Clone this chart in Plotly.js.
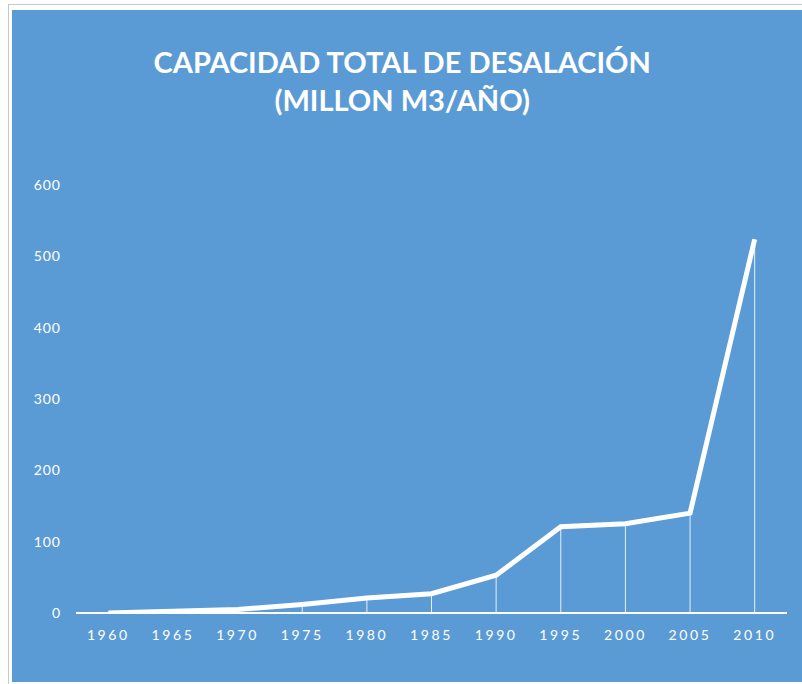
<!DOCTYPE html>
<html>
<head>
<meta charset="utf-8">
<script src="https://cdn.plot.ly/plotly-3.0.1.min.js"></script>
<style>
html,body{margin:0;padding:0;background:#fff;width:802px;height:684px;overflow:hidden;}
#frame{position:absolute;left:8px;top:4px;width:794px;height:680px;border-left:1px solid #c8c8c8;border-top:1px solid #c8c8c8;}
#chart{position:absolute;left:12px;top:10px;width:790px;height:672px;}
#chart .xtick text{letter-spacing:2.6px;}
#chart .ytick text{letter-spacing:1px;}
</style>
</head>
<body>
<div id="frame"></div>
<div id="chart"></div>
<script>
var years = ['1960','1965','1970','1975','1980','1985','1990','1995','2000','2005','2010'];
var capacity = [0, 2, 5, 12, 21, 27, 53, 121, 125, 140, 524];
var yTicks = [0, 100, 200, 300, 400, 500, 600];
var titleText = 'CAPACIDAD TOTAL DE DESALACIÓN<br>(MILLON M3/AÑO)';

var zeros = capacity.map(function(){return 0;});
var trace = {
  x: years,
  y: capacity,
  type: 'scatter',
  mode: 'lines',
  line: {color: '#ffffff', width: 5},
  error_y: {type: 'data', symmetric: false, array: zeros, arrayminus: capacity, width: 0, thickness: 1, color: 'rgba(255,255,255,0.85)'},
  hoverinfo: 'x+y'
};
var font = 'Lato, Calibri, "Open Sans", sans-serif';
var layout = {
  width: 790, height: 672,
  paper_bgcolor: '#5b9bd5',
  plot_bgcolor: '#5b9bd5',
  margin: {l: 64, r: 15, t: 175, b: 69},
  showlegend: false,
  title: {
    text: titleText,
    font: {family: font, size: 29, color: '#ffffff', weight: 'bold'},
    x: 0.494, xanchor: 'center', xref: 'container',
    y: 1 - 63/672, yanchor: 'top', yref: 'container'
  },
  xaxis: {
    type: 'category',
    range: [-0.5, 10.5],
    showgrid: false, zeroline: false,
    showline: false,
    ticks: '',
    tickfont: {family: font, size: 14, color: '#ffffff'},
    ticklabelstandoff: 12,
    fixedrange: true
  },
  yaxis: {
    range: [0, 600],
    tickvals: yTicks,
    ticktext: yTicks.map(String),
    showgrid: false,
    zeroline: true, zerolinecolor: '#ffffff', zerolinewidth: 2,
    showline: false, ticks: '',
    tickfont: {family: font, size: 14, color: '#ffffff'},
    ticklabelstandoff: 14,
    fixedrange: true
  }
};
Plotly.newPlot('chart', [trace], layout, {displayModeBar: false, staticPlot: true});
</script>
</body>
</html>
